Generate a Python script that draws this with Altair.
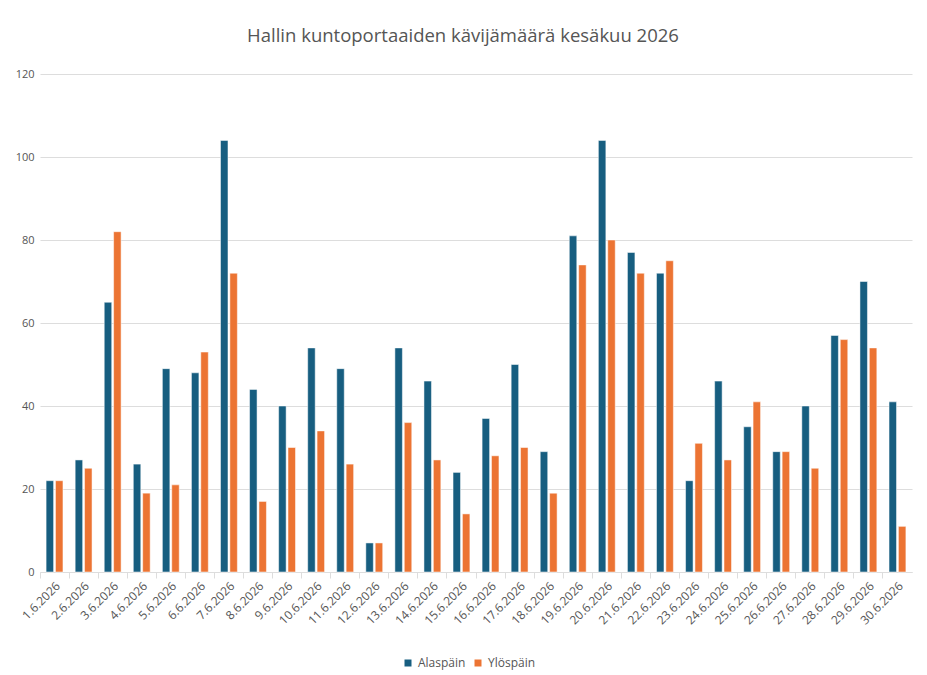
import altair as alt
import pandas as pd

dates = [f"{d}.6.2026" for d in range(1, 31)]
alaspain = [22, 27, 65, 26, 49, 48, 104, 44, 40, 54, 49, 7, 54, 46, 24, 37, 50, 29, 81, 104, 77, 72, 22, 46, 35, 29, 40, 57, 70, 41]
ylospain = [22, 25, 82, 19, 21, 53, 72, 17, 30, 34, 26, 7, 36, 27, 14, 28, 30, 19, 74, 80, 72, 75, 31, 27, 41, 29, 25, 56, 54, 11]
series = ["Alaspäin", "Ylöspäin"]
colors = ["#175e80", "#ec7433"]

rows = []
for i, d in enumerate(dates):
    rows.append({"pvm": d, "suunta": series[0], "maara": alaspain[i]})
    rows.append({"pvm": d, "suunta": series[1], "maara": ylospain[i]})
df = pd.DataFrame(rows)

FONT = "Open Sans"

chart = alt.Chart(df).mark_bar(stroke="white", strokeOpacity=0.5, strokeWidth=1).encode(
    x=alt.X("pvm:N", sort=dates, title=None,
            scale=alt.Scale(paddingInner=0, paddingOuter=0),
            axis=alt.Axis(labelAngle=-45, bandPosition=0,
                          domainColor="#dddddd", tickColor="#dddddd", tickSize=6,
                          labelColor="#555555", labelFontSize=12, labelFont=FONT,
                          labelPadding=2, grid=False)),
    xOffset=alt.XOffset("suunta:N", sort=series,
                        scale=alt.Scale(paddingInner=0.2, paddingOuter=0.65)),
    y=alt.Y("maara:Q", title=None,
            scale=alt.Scale(domain=[0, 120]),
            axis=alt.Axis(values=[0, 20, 40, 60, 80, 100, 120], domain=False, ticks=False,
                          gridColor="#dddddd", labelColor="#555555", labelFontSize=11,
                          labelFont=FONT, labelPadding=6)),
    color=alt.Color("suunta:N", sort=series,
                    scale=alt.Scale(domain=series, range=colors),
                    legend=alt.Legend(title=None, orient="none", direction="horizontal",
                                      legendX=362, legendY=583, symbolType="square",
                                      symbolSize=49, symbolStrokeWidth=0,
                                      labelFont=FONT, labelFontSize=12, labelColor="#555555",
                                      labelOffset=4, columnPadding=6, symbolOffset=0)),
).properties(
    width=872,
    height=498,
    title=alt.TitleParams("Hallin kuntoportaaiden kävijämäärä kesäkuu 2026",
                          font=FONT, fontSize=18.5, fontWeight="normal", color="#555555",
                          anchor="middle", offset=23, dx=-13),
    autosize=alt.AutoSizeParams(type="none"),
    padding={"left": 40, "top": 74, "right": 15, "bottom": 103},
).configure_view(stroke=None)

chart.save("out.html", embed_options={"renderer": "svg", "actions": False})
